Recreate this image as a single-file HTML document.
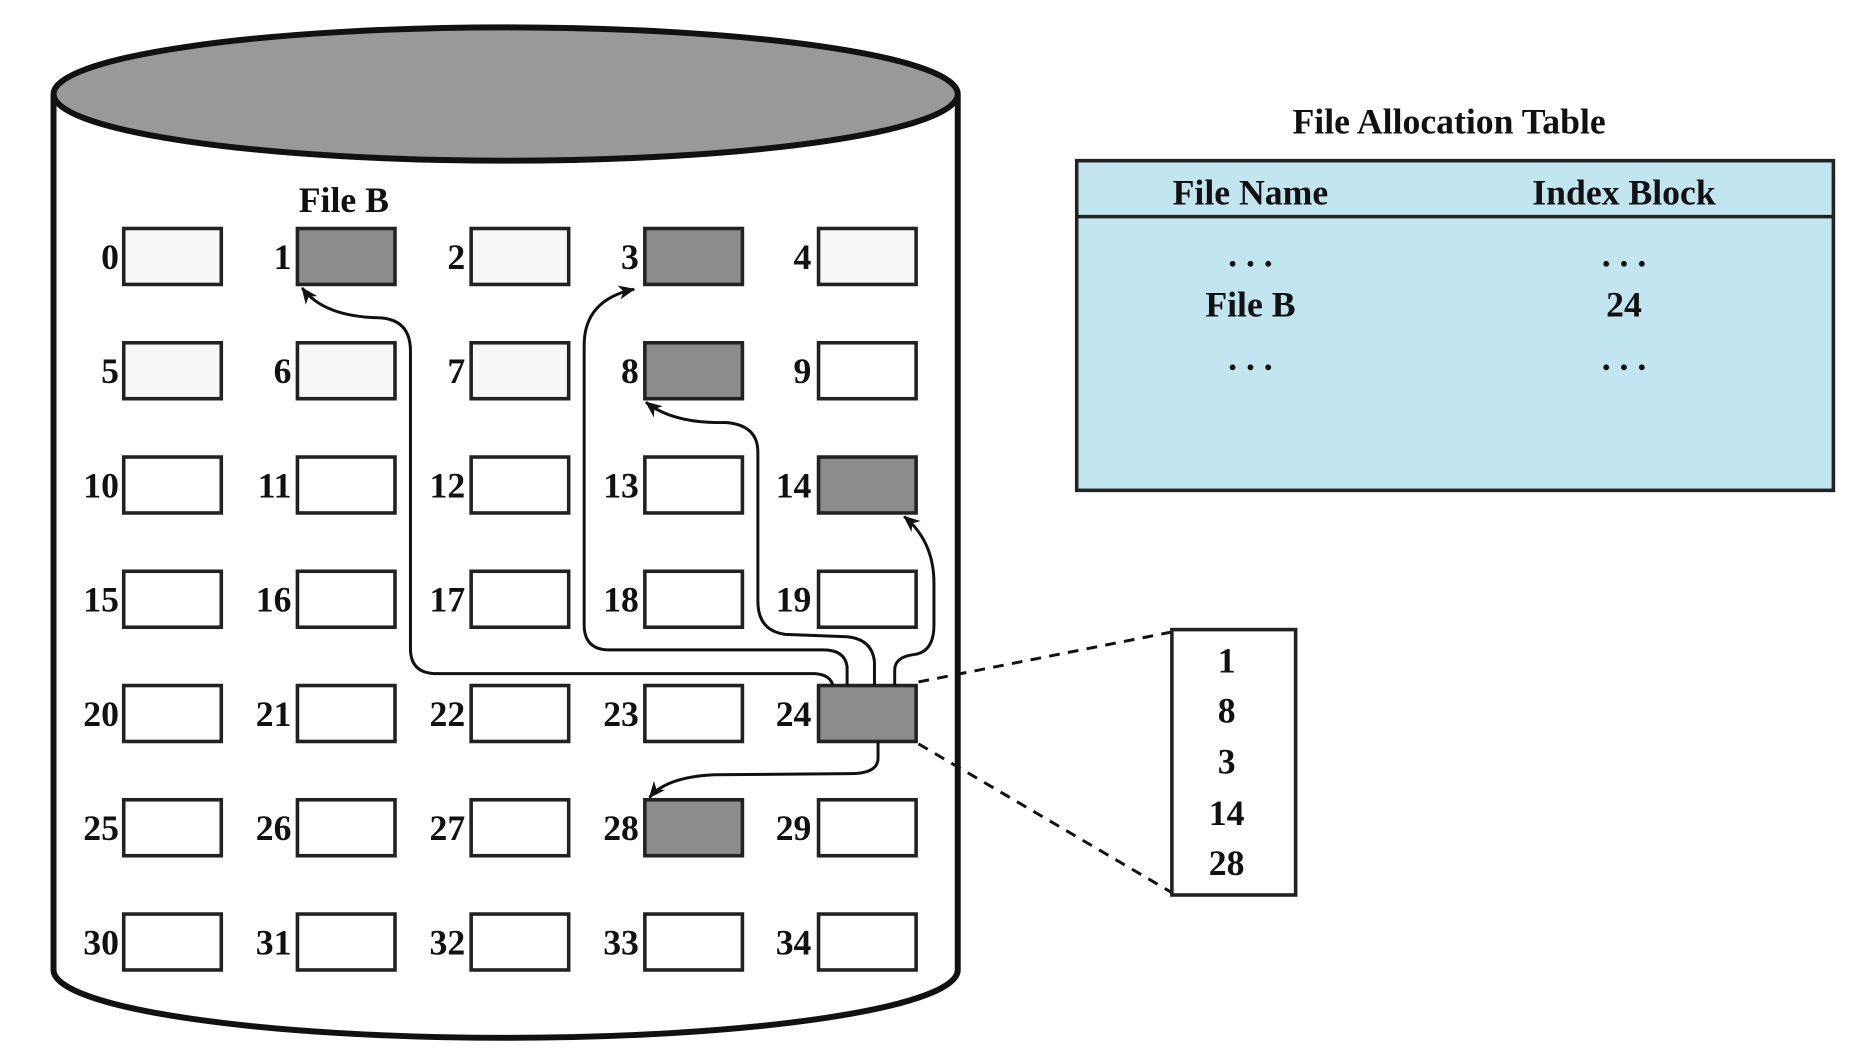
<!DOCTYPE html>
<html><head><meta charset="utf-8"><style>
html,body{margin:0;padding:0;background:#fff;}
svg{display:block;}
text{font-family:"Liberation Serif",serif;font-weight:bold;fill:#111;}
</style></head><body>
<svg width="1856" height="1064" viewBox="0 0 1560 894" preserveAspectRatio="none" xmlns="http://www.w3.org/2000/svg">
<defs>
<marker id="ah" markerWidth="14" markerHeight="12" refX="13" refY="6" orient="auto" markerUnits="userSpaceOnUse" viewBox="0 0 14 12">
<path d="M0,0 L14,6 L0,12 L4,6 Z" fill="#111"/>
</marker>
</defs>
<path d="M45,80 L45,815 A380,57 0 0 0 805,815 L805,80" fill="#fff" stroke="#111" stroke-width="5"/>
<ellipse cx="425" cy="79" rx="380" ry="56" fill="#999" stroke="#111" stroke-width="5"/>
<text x="289" y="178" font-size="30" text-anchor="middle">File B</text>
<g stroke="#222" stroke-width="3">
<rect x="104" y="192" width="82" height="47" fill="#f8f8f8"/>
<rect x="250" y="192" width="82" height="47" fill="#8c8c8c"/>
<rect x="396" y="192" width="82" height="47" fill="#f8f8f8"/>
<rect x="542" y="192" width="82" height="47" fill="#8c8c8c"/>
<rect x="688" y="192" width="82" height="47" fill="#f8f8f8"/>
<rect x="104" y="288" width="82" height="47" fill="#f8f8f8"/>
<rect x="250" y="288" width="82" height="47" fill="#f8f8f8"/>
<rect x="396" y="288" width="82" height="47" fill="#f8f8f8"/>
<rect x="542" y="288" width="82" height="47" fill="#8c8c8c"/>
<rect x="688" y="288" width="82" height="47" fill="#fff"/>
<rect x="104" y="384" width="82" height="47" fill="#fff"/>
<rect x="250" y="384" width="82" height="47" fill="#fff"/>
<rect x="396" y="384" width="82" height="47" fill="#fff"/>
<rect x="542" y="384" width="82" height="47" fill="#fff"/>
<rect x="688" y="384" width="82" height="47" fill="#8c8c8c"/>
<rect x="104" y="480" width="82" height="47" fill="#fff"/>
<rect x="250" y="480" width="82" height="47" fill="#fff"/>
<rect x="396" y="480" width="82" height="47" fill="#fff"/>
<rect x="542" y="480" width="82" height="47" fill="#fff"/>
<rect x="688" y="480" width="82" height="47" fill="#fff"/>
<rect x="104" y="576" width="82" height="47" fill="#fff"/>
<rect x="250" y="576" width="82" height="47" fill="#fff"/>
<rect x="396" y="576" width="82" height="47" fill="#fff"/>
<rect x="542" y="576" width="82" height="47" fill="#fff"/>
<rect x="688" y="576" width="82" height="47" fill="#8c8c8c"/>
<rect x="104" y="672" width="82" height="47" fill="#fff"/>
<rect x="250" y="672" width="82" height="47" fill="#fff"/>
<rect x="396" y="672" width="82" height="47" fill="#fff"/>
<rect x="542" y="672" width="82" height="47" fill="#8c8c8c"/>
<rect x="688" y="672" width="82" height="47" fill="#fff"/>
<rect x="104" y="768" width="82" height="47" fill="#fff"/>
<rect x="250" y="768" width="82" height="47" fill="#fff"/>
<rect x="396" y="768" width="82" height="47" fill="#fff"/>
<rect x="542" y="768" width="82" height="47" fill="#fff"/>
<rect x="688" y="768" width="82" height="47" fill="#fff"/>
</g>
<g font-size="30" text-anchor="end">
<text x="100" y="226">0</text><text x="245" y="226">1</text><text x="391" y="226">2</text><text x="537" y="226">3</text><text x="682" y="226">4</text>
<text x="100" y="322">5</text><text x="245" y="322">6</text><text x="391" y="322">7</text><text x="537" y="322">8</text><text x="682" y="322">9</text>
<text x="100" y="418">10</text><text x="245" y="418">11</text><text x="391" y="418">12</text><text x="537" y="418">13</text><text x="682" y="418">14</text>
<text x="100" y="514">15</text><text x="245" y="514">16</text><text x="391" y="514">17</text><text x="537" y="514">18</text><text x="682" y="514">19</text>
<text x="100" y="610">20</text><text x="245" y="610">21</text><text x="391" y="610">22</text><text x="537" y="610">23</text><text x="682" y="610">24</text>
<text x="100" y="706">25</text><text x="245" y="706">26</text><text x="391" y="706">27</text><text x="537" y="706">28</text><text x="682" y="706">29</text>
<text x="100" y="802">30</text><text x="245" y="802">31</text><text x="391" y="802">32</text><text x="537" y="802">33</text><text x="682" y="802">34</text>
</g>
<g fill="none" stroke="#111" stroke-width="2.5">
<path d="M700,576 Q698,567 685,566 L365,566 Q345,565 345,545 L345,295 Q345,268 318,267 Q272,266 254,242" marker-end="url(#ah)"/>
<path d="M712,576 L712,560 Q710,546 692,546 L510,546 Q491,545 491,525 L491,290 Q491,252 533,243" marker-end="url(#ah)"/>
<path d="M735,576 L735,556 Q733,537 712,535 L660,533 Q637,530 637,505 L637,380 Q637,357 610,355 Q566,356 543,338" marker-end="url(#ah)"/>
<path d="M752,576 L752,563 Q752,552 768,550 Q785,548 785,525 L785,490 Q785,455 760,434" marker-end="url(#ah)"/>
<path d="M738,623 L738,637 Q738,650 715,650 L600,651 Q560,653 546,670" marker-end="url(#ah)"/>
</g>
<g stroke="#111" stroke-width="2.5" stroke-dasharray="9,7">
<line x1="772" y1="573" x2="985" y2="531"/>
<line x1="772" y1="625" x2="985" y2="750"/>
</g>
<rect x="985" y="529" width="104" height="223" fill="#fff" stroke="#222" stroke-width="3"/>
<g font-size="30" text-anchor="middle">
<text x="1031" y="565">1</text><text x="1031" y="607">8</text><text x="1031" y="650">3</text><text x="1031" y="693">14</text><text x="1031" y="735">28</text>
</g>
<text x="1218" y="112" font-size="30" text-anchor="middle">File Allocation Table</text>
<rect x="905" y="135" width="636" height="277" fill="#c1e6f0" stroke="#222" stroke-width="3"/>
<line x1="905" y1="182" x2="1541" y2="182" stroke="#222" stroke-width="3"/>
<g font-size="30" text-anchor="middle">
<text x="1051" y="172">File Name</text><text x="1365" y="172">Index Block</text>
<text x="1051" y="224">. . .</text><text x="1365" y="224">. . .</text>
<text x="1051" y="266">File B</text><text x="1365" y="266">24</text>
<text x="1051" y="311">. . .</text><text x="1365" y="311">. . .</text>
</g>
</svg>
</body></html>
